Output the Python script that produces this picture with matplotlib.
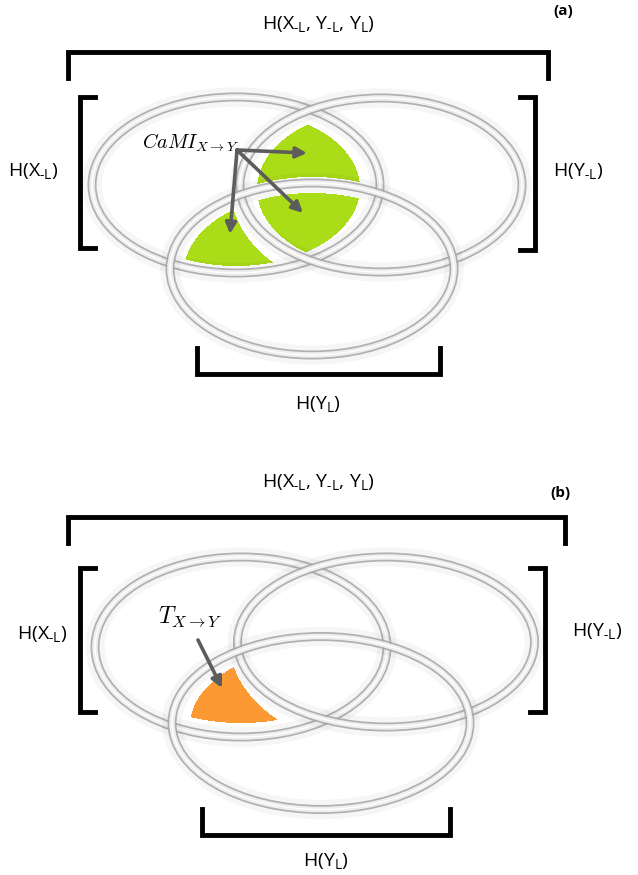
import numpy as np
import matplotlib.pyplot as plt
from matplotlib.colors import to_rgb
from matplotlib.patches import Ellipse

plt.rcParams['mathtext.fontset'] = 'custom'
plt.rcParams['mathtext.rm'] = 'Open Sans'
plt.rcParams['font.family'] = ['Open Sans', 'DejaVu Sans']

W, H = 638, 875

# ring ellipses per panel: (cx, cy, width, height) in pixel units
ring_a = {'X': (236, 185, 288, 176), 'Y': (381, 185, 282, 174), 'YL': (312, 269, 284, 172)}
ring_b = {'X': (241, 647, 292, 180), 'Y': (386, 642, 297, 170), 'YL': (321, 723, 298, 173)}

# shapes the coloured regions are cut from (smaller than the rings)
fill_a = {'X': (236, 188, 248, 156), 'Y': (381, 189, 248, 160), 'YL': (312, 272, 256, 158)}
cut_a = {'Y': (381, 189, 300, 212), 'YL': (312, 272, 288, 190)}
fill_b = {'X': (241, 647, 262, 152), 'Y': (386, 640, 262, 150), 'YL': (321, 726, 262, 158)}
cut_b = {'Y': (386, 640, 314, 220)}

# brackets: (kind, start, end, fixed coord, tick direction)
brackets_a = [('h', 68, 548, 52, 1), ('v', 97, 248, 80, 1), ('v', 97, 250, 535, -1), ('h', 197, 440, 374, -1)]
brackets_b = [('h', 68, 565, 517, 1), ('v', 568, 712, 80, 1), ('v', 568, 712, 545, -1), ('h', 202, 450, 835, -1)]

big = r'H(X$_{\text{-L}}$, Y$_{\text{-L}}$, Y$_{\text{L}}$)'
lab_x = r'H(X$_{\text{-L}}$)'
lab_y = r'H(Y$_{\text{-L}}$)'
lab_yl = r'H(Y$_{\text{L}}$)'

green = '#aadd17'
orange = '#fb9a33'

fig = plt.figure(figsize=(W / 100, H / 100), dpi=100)
ax = fig.add_axes([0, 0, 1, 1])
ax.set_xlim(0, W)
ax.set_ylim(H, 0)
ax.axis('off')

yy, xx = np.mgrid[0:H, 0:W] + 0.5


def inside(e):
    cx, cy, w, h = e
    return ((xx - cx) / (w / 2)) ** 2 + ((yy - cy) / (h / 2)) ** 2 < 1


def fill(mask, color):
    rgba = np.zeros((H, W, 4))
    rgba[..., :3] = to_rgb(color)
    rgba[..., 3] = mask
    ax.imshow(rgba, extent=(0, W, H, 0), zorder=1, interpolation='bilinear')


def ring(e):
    cx, cy, w, h = e
    for lw, col, a in [(14, '#000000', 0.035), (6.5, '#a4a4a4', 0.85), (4, '#f2f2f2', 0.95),
                       (1.0, '#ffffff', 1)]:
        ax.add_patch(Ellipse((cx, cy), w, h, fill=False, lw=lw, ec=col, alpha=a, zorder=2))


def bracket(b):
    kind, p0, p1, c, d = b
    t = 26 if kind == 'h' else 15
    xs, ys = [p0, p0, p1, p1], [c + d * t, c, c, c + d * t]
    if kind == 'v':
        xs, ys = ys, xs
    ax.plot(xs, ys, color='black', lw=3.5, solid_joinstyle='miter', zorder=3)


# panel (a): CaMI regions
X, Y, YL = fill_a['X'], fill_a['Y'], fill_a['YL']
cami = (inside(X) & inside(Y) & ~inside(cut_a['YL'])) | \
       (inside(X) & inside(Y) & inside(YL)) | \
       (inside(X) & inside(YL) & ~inside(cut_a['Y']))
fill(cami, green)
for e in ring_a.values():
    ring(e)
for b in brackets_a:
    bracket(b)

# panel (b): transfer entropy region
X, YL = fill_b['X'], fill_b['YL']
te = inside(X) & inside(YL) & ~inside(cut_b['Y'])
fill(te, orange)
for e in ring_b.values():
    ring(e)
for b in brackets_b:
    bracket(b)

fs = 14
ax.text(318, 25, big, fontsize=fs, ha='center', va='center')
ax.text(318, 483, big, fontsize=fs, ha='center', va='center')
ax.text(563, 11, '(a)', fontsize=11, fontweight='bold', ha='center', va='center')
ax.text(560, 493, '(b)', fontsize=11, fontweight='bold', ha='center', va='center')
ax.text(33, 172, lab_x, fontsize=fs, ha='center', va='center')
ax.text(578, 172, lab_y, fontsize=fs, ha='center', va='center')
ax.text(318, 405, lab_yl, fontsize=fs, ha='center', va='center')
ax.text(42, 635, lab_x, fontsize=fs, ha='center', va='center')
ax.text(597, 632, lab_y, fontsize=fs, ha='center', va='center')
ax.text(326, 862, lab_yl, fontsize=fs, ha='center', va='center')

ax.text(190, 143, r'$CaMI_{X\rightarrow Y}$', fontsize=14.5, ha='center', va='center',
        math_fontfamily='cm', zorder=5)
ax.text(190, 617, r'$T_{X\rightarrow Y}$', fontsize=17, ha='center', va='center',
        math_fontfamily='cm', zorder=5)

arrows = [((237, 150), (307, 153)), ((237, 150), (303, 213)), ((237, 150), (230, 234)),
          ((198, 640), (222, 688))]
for s, t in arrows:
    ax.annotate('', xy=t, xytext=s, zorder=6,
                arrowprops=dict(arrowstyle='-|>', lw=2.6, color='#5c5c5c',
                                mutation_scale=16, shrinkA=0, shrinkB=0))

fig.savefig('out.png', dpi=100)
